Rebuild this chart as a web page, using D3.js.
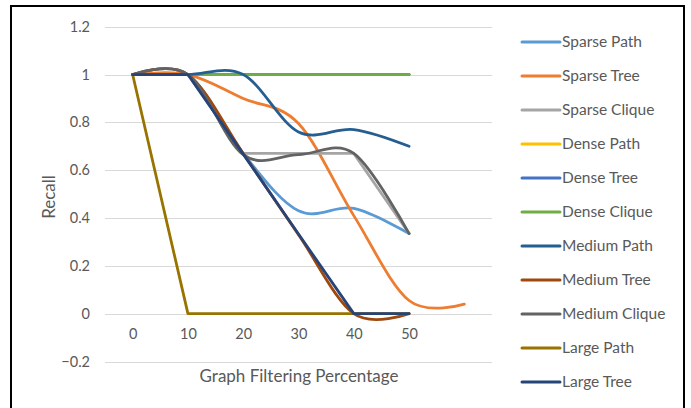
<!DOCTYPE html>
<html>
<head>
<meta charset="utf-8">
<script src="https://cdn.jsdelivr.net/npm/d3@7"></script>
<style>
  html, body { margin: 0; padding: 0; background: #fff; }
  svg { display: block; font-family: Lato, "Noto Sans", sans-serif; }
  .tick text { fill: #595959; }
</style>
</head>
<body>
<svg id="chart" width="691" height="408"></svg>
<script>
// Recall vs. graph filtering percentage, one line per graph type
const categories = [0, 10, 20, 30, 40, 50, 60];
const categoryLabels = ["0", "10", "20", "30", "40", "50", ""];
const yTicks = [-0.2, 0, 0.2, 0.4, 0.6, 0.8, 1, 1.2];

const seriesNames = [
  "Sparse Path", "Sparse Tree", "Sparse Clique",
  "Dense Path", "Dense Tree", "Dense Clique",
  "Medium Path", "Medium Tree", "Medium Clique",
  "Large Path", "Large Tree"
];

const sparsePath   = [1, 1, 0.67, 0.43, 0.44, 0.335];
const sparseTree   = [1, 1, 0.9, 0.795, 0.41, 0.055, 0.04];
const sparseClique = [1, 1, 0.67, 0.67, 0.67, 0.335];
const densePath    = [1, 1, 1, 1, 1, 1];
const denseTree    = [1, 1, 1, 1, 1, 1];
const denseClique  = [1, 1, 1, 1, 1, 1];
const mediumPath   = [1, 1, 1, 0.76, 0.77, 0.7];
const mediumTree   = [1, 1, 0.67, 0.33, 0, 0];
const mediumClique = [1, 1, 0.665, 0.665, 0.67, 0.335];
const largePath    = [1, 0, 0, 0, 0, 0];
const largeTree    = [1, 1, 0.667, 0.333, 0, 0];

const seriesValues = [
  sparsePath, sparseTree, sparseClique,
  densePath, denseTree, denseClique,
  mediumPath, mediumTree, mediumClique,
  largePath, largeTree
];

const colors = [
  "#5B9BD5", "#ED7D31", "#A5A5A5",
  "#FFC000", "#4472C4", "#70AD47",
  "#255E91", "#9E480E", "#636363",
  "#997300", "#264478"
];
const smoothed = [true, true, false, true, true, true, true, true, true, false, false];

const svg = d3.select("#chart");

// outer frame
svg.append("rect")
  .attr("x", 11).attr("y", 6)
  .attr("width", 673).attr("height", 405)
  .attr("fill", "none").attr("stroke", "#000").attr("stroke-width", 2);

const plot = { left: 105, right: 492, top: 26.7, bottom: 361.5 };

const x = d3.scalePoint()
  .domain(categories)
  .range([plot.left, plot.right])
  .padding(0.5);

const y = d3.scaleLinear()
  .domain([-0.2, 1.2])
  .range([plot.bottom, plot.top]);

// horizontal gridlines
svg.append("g")
  .selectAll("line")
  .data(yTicks)
  .join("line")
  .attr("x1", plot.left).attr("x2", plot.right)
  .attr("y1", d => Math.round(y(d)) + 0.5).attr("y2", d => Math.round(y(d)) + 0.5)
  .attr("stroke", "#D9D9D9").attr("stroke-width", 1);

// value axis labels
const yAxis = svg.append("g")
  .attr("transform", `translate(${plot.left},0)`)
  .call(d3.axisLeft(y).tickValues(yTicks).tickSize(0).tickPadding(15)
    .tickFormat(d => d3.format("")(+d.toFixed(1))));
yAxis.select(".domain").remove();
yAxis.selectAll("text").attr("font-size", 14.5).attr("font-family", "Lato, sans-serif");

// category axis labels, sitting just under the zero line
const xAxis = svg.append("g")
  .attr("transform", `translate(0,${y(0)})`)
  .call(d3.axisBottom(x).tickSize(0).tickPadding(15)
    .tickFormat((d, i) => categoryLabels[i]));
xAxis.select(".domain").remove();
xAxis.selectAll("text").attr("font-size", 14.5).attr("font-family", "Lato, sans-serif");

// axis titles
svg.append("text")
  .attr("x", 299).attr("y", 382)
  .attr("text-anchor", "middle")
  .attr("font-size", 17).attr("fill", "#595959")
  .text("Graph Filtering Percentage");

svg.append("text")
  .attr("transform", "translate(55,197) rotate(-90)")
  .attr("text-anchor", "middle")
  .attr("font-size", 17).attr("fill", "#595959")
  .text("Recall");

// series lines
const lines = svg.append("g")
  .attr("fill", "none")
  .attr("stroke-width", 2.8)
  .attr("stroke-linecap", "round")
  .attr("stroke-linejoin", "round");

seriesValues.forEach((vals, i) => {
  const pts = vals.map((v, j) => [categories[j], v]);
  const line = d3.line()
    .x(d => x(d[0]))
    .y(d => y(d[1]))
    .curve(smoothed[i] ? d3.curveCatmullRom.alpha(0) : d3.curveLinear);
  lines.append("path")
    .attr("d", line(pts))
    .attr("stroke", colors[i]);
});

// legend
const legend = svg.append("g");
seriesNames.forEach((name, i) => {
  const ly = 42 + i * 34;
  legend.append("line")
    .attr("x1", 522).attr("x2", 560)
    .attr("y1", ly).attr("y2", ly)
    .attr("stroke", colors[i]).attr("stroke-width", 3)
    .attr("stroke-linecap", "round");
  legend.append("text")
    .attr("x", 562).attr("y", ly)
    .attr("dy", "0.35em")
    .attr("font-size", 15.5).attr("fill", "#595959")
    .text(name);
});
</script>
</body>
</html>
